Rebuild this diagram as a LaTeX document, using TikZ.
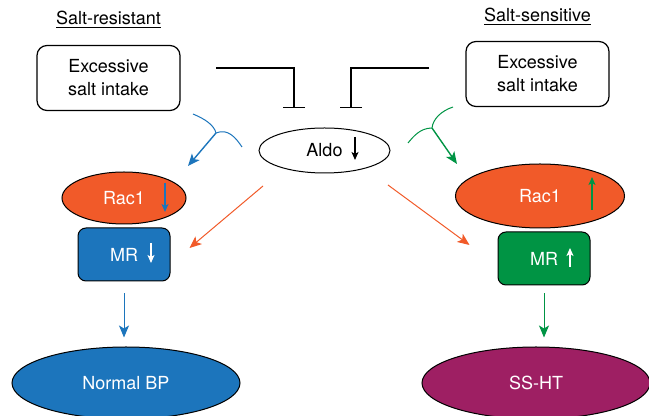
\documentclass[tikz,border=0pt]{standalone}
\usepackage{fontspec}
\setmainfont{TeX Gyre Heros}
\usepackage{tikz}
\usetikzlibrary{positioning,arrows.meta,calc,shapes.geometric}
\definecolor{racOrange}{RGB}{241,90,41}
\definecolor{mrBlue}{RGB}{28,117,188}
\definecolor{mrGreen}{RGB}{0,148,68}
\definecolor{htPurple}{RGB}{158,31,99}

\begin{document}
\begin{tikzpicture}[
                  x=0.5pt,y=-0.5pt,
                  font=\fontsize{9}{11.5}\selectfont,
                  saltbox/.style={draw,rounded corners=5pt,line width=0.6pt,align=center,minimum width=71.5pt,minimum height=32.5pt},
                  oval/.style={ellipse,draw,line width=0.5pt,inner sep=0pt},
                  mrbox/.style={draw,rounded corners=4pt,line width=0.5pt,minimum width=46pt,minimum height=26.5pt,text=white},
                  inhib/.style={-{Bar[width=11pt]},line width=0.6pt},
                  arr/.style={-{Stealth[length=6pt,width=5pt,inset=1.5pt]},line width=0.5pt},
                  ind/.style={-{Stealth[length=4pt,width=3.5pt,inset=1pt]},line width=0.8pt}
                ]
                \useasboundingbox (0,0) rectangle (649,416);
                \node (titleL) at (108.5,20) {\underline{Salt-resistant}};
                \node (titleR) at (537.5,17) {\underline{Salt-sensitive}};
                \node[saltbox] (saltL) at (108.5,78) {Excessive\\salt intake};
                \node[saltbox] (saltR) at (537.5,74) {Excessive\\salt intake};
                \node[oval,minimum width=65.5pt,minimum height=22.5pt] (aldo) at (324.5,150.5) {Aldo\hspace{7pt}};
                \node[oval,fill=racOrange,text=white,minimum width=62pt,minimum height=26pt] (racL) at (124,198) {Rac1};
                \node[oval,fill=racOrange,text=white,minimum width=84.5pt,minimum height=32pt] (racR) at (540,196) {Rac1};
                \node[mrbox,fill=mrBlue,below=1.5pt of racL] (mrL) {MR};
                \node[mrbox,fill=mrGreen,below=1.5pt of racR,xshift=2pt] (mrR) {MR};
                \node[oval,fill=mrBlue,text=white,minimum width=114pt,minimum height=36pt] (bpL) at (126,383) {Normal BP};
                \node[oval,fill=htPurple,text=white,minimum width=114pt,minimum height=36pt] (htR) at (536,383) {SS-HT};

                \coordinate (inhL) at (216,68);
                \coordinate (inhR) at (429,68);
                \draw[inhib] (inhL) -| ($(aldo.north)+(-30.5,-19.5)$);
                \draw[inhib] (inhR) -| ($(aldo.north)+(26.5,-19.5)$);

                \coordinate (jL) at (216,133);
                \coordinate (jR) at (432,128);
                \draw[mrBlue,line width=0.5pt] (193,114) .. controls (205,119) and (214,125) .. (jL);
                \draw[mrBlue,line width=0.5pt] (jL) .. controls (228,128) and (236,138) .. (242,147);
                \draw[arr,mrBlue,line width=0.7pt] (jL) -- (188,166);
                \draw[mrGreen,line width=0.5pt] (453,107) .. controls (441,111) and (433,119) .. (jR);
                \draw[mrGreen,line width=0.5pt] (jR) .. controls (420,128) and (413,137) .. (408,143);
                \draw[arr,mrGreen,line width=0.7pt] (jR) -- (457,164);

                \draw[arr,racOrange] ($(aldo.center)+(-61.5,35.5)$) -- ($(mrL.east)+(19,-6.5)$);
                \draw[arr,racOrange] ($(aldo.center)+(63.5,34.5)$) -- ($(mrR.west)+(-28,-13.5)$);

                \draw[arr,mrBlue,shorten <=6pt,shorten >=4.5pt] (mrL.south) -- (mrL.south |- bpL.north);
                \draw[arr,mrGreen,shorten <=4pt,shorten >=4.5pt] (mrR.south) -- (mrR.south |- htR.north);

                \draw[ind] ($(aldo.center)+(30.5,-13.5)$) -- ++(0,23);
                \draw[ind,mrBlue,line width=1pt] ($(racL.center)+(41,-15)$) -- ++(0,29);
                \draw[ind,mrGreen] ($(racR.center)+(52,14)$) -- ++(0,-33);
                \draw[ind,white,line width=1pt] ($(mrL.center)+(27,-11.5)$) -- ++(0,20);
                \draw[ind,white,line width=1pt] ($(mrR.center)+(26,8.5)$) -- ++(0,-19);
                \end{tikzpicture}
\end{document}
